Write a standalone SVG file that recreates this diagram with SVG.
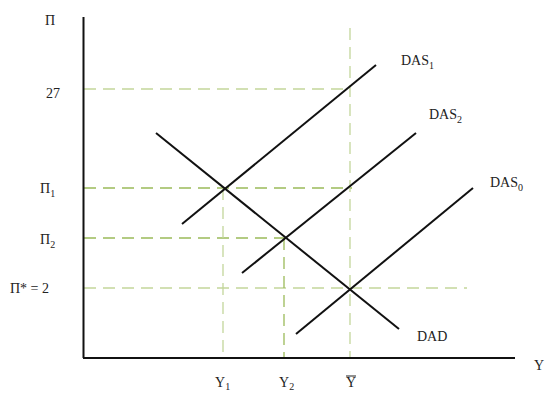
<svg xmlns="http://www.w3.org/2000/svg" width="546" height="393" viewBox="0 0 546 393">
<style>
text{font-family:"Liberation Serif","Times New Roman",serif;font-size:14px;fill:#222}
.sub{font-size:10px}
.axis{stroke:#111;stroke-width:2;fill:none}
.curve{stroke:#111;stroke-width:2;fill:none}
.g1{stroke:#9bbb59;stroke-width:1.3;stroke-dasharray:12 7;fill:none}
.g2{stroke:#c3d69b;stroke-width:1.3;stroke-dasharray:12 7;fill:none}
</style>
<rect width="546" height="393" fill="#fff"/>
<g id="guides">
<line class="g2" x1="84" y1="89" x2="350" y2="89"/>
<line class="g1" x1="84" y1="188" x2="352" y2="188"/>
<line class="g1" x1="84" y1="238" x2="284" y2="238"/>
<line class="g2" x1="84" y1="288" x2="467" y2="288"/>
<line class="g2" x1="223" y1="188" x2="223" y2="357"/>
<line class="g1" x1="284" y1="238" x2="284" y2="357"/>
<line class="g2" x1="350" y1="28" x2="350" y2="357"/>
</g>
<g id="axes">
<line class="axis" x1="83.5" y1="17" x2="83.5" y2="358"/>
<line class="axis" x1="83" y1="358" x2="515" y2="358"/>
</g>
<g id="connectors">
<line id="DAD" class="curve" x1="156" y1="133" x2="399" y2="329"/>
<line id="DAS1" class="curve" x1="182" y1="224" x2="376" y2="65"/>
<line id="DAS2" class="curve" x1="242" y1="273" x2="416" y2="133"/>
<line id="DAS0" class="curve" x1="296" y1="334" x2="473" y2="188"/>
</g>
<g id="labels">
<text x="45" y="25">Π</text>
<text x="46" y="98">27</text>
<text x="40" y="193">Π<tspan class="sub" dy="4">1</tspan></text>
<text x="40" y="244">Π<tspan class="sub" dy="4">2</tspan></text>
<text x="10" y="293">Π* = 2</text>
<text x="401" y="65">DAS<tspan class="sub" dy="4">1</tspan></text>
<text x="429" y="119">DAS<tspan class="sub" dy="4">2</tspan></text>
<text x="490" y="187">DAS<tspan class="sub" dy="4">0</tspan></text>
<text x="417" y="341">DAD</text>
<text x="534" y="370">Y</text>
<text x="215" y="387">Y<tspan class="sub" dy="3">1</tspan></text>
<text x="279" y="387">Y<tspan class="sub" dy="3">2</tspan></text>
<text x="346" y="387">Y</text>
<line x1="346" y1="376" x2="356" y2="376" stroke="#222" stroke-width="1"/>
</g>
</svg>
